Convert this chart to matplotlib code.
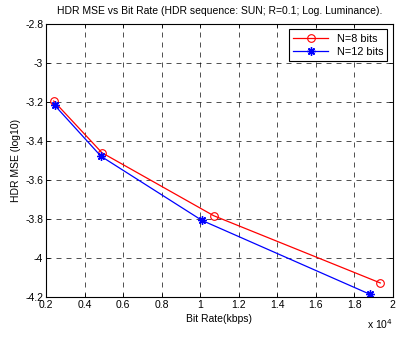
import matplotlib
matplotlib.use("Agg")
import matplotlib.pyplot as plt

plt.rcParams['font.family'] = ['Liberation Sans', 'DejaVu Sans']

rate_8 = [2400, 4900, 10700, 19350]
mse_8 = [-3.195, -3.46, -3.783, -4.128]
rate_12 = [2450, 4850, 10090, 18810]
mse_12 = [-3.217, -3.478, -3.807, -4.186]

xticks = [2000, 4000, 6000, 8000, 10000, 12000, 14000, 16000, 18000, 20000]
xticklabels = ['0.2', '0.4', '0.6', '0.8', '1', '1.2', '1.4', '1.6', '1.8', '2']
yticks = [-2.8, -3.0, -3.2, -3.4, -3.6, -3.8, -4.0, -4.2]
yticklabels = ['-2.8', '-3', '-3.2', '-3.4', '-3.6', '-3.8', '-4', '-4.2']

fig = plt.figure(figsize=(3.98, 3.38), dpi=100)
ax = fig.add_axes([0.1156, 0.1213, 0.8714, 0.8077])

ax.plot(rate_8, mse_8, color='red', lw=0.9, marker='o', ms=5.5, mfc='none', mec='red', mew=0.8, label='N=8 bits')
ax.plot(rate_12, mse_12, color='blue', lw=0.9, marker=(8, 2, 0), ms=6, mfc='blue', mec='blue', mew=1.0, label='N=12 bits')

ax.set_xlim(2000, 20000)
ax.set_ylim(-4.2, -2.8)
ax.set_xticks(xticks)
ax.set_xticklabels(xticklabels)
ax.set_yticks(yticks)
ax.set_yticklabels(yticklabels)
ax.tick_params(direction='in', labelsize=7.5, length=3, width=0.6, top=True, right=True, pad=2)
ax.grid(True, color='black', linestyle=(0, (6, 6)), linewidth=0.6, alpha=0.8)
for s in ax.spines.values():
    s.set_linewidth(0.8)

ax.set_xlabel('Bit Rate(kbps)', fontsize=7.5, labelpad=3)
ax.set_ylabel('HDR MSE (log10)', fontsize=7.5, labelpad=3)
ax.set_title('HDR MSE vs Bit Rate (HDR sequence: SUN; R=0.1; Log. Luminance).', fontsize=7.5, pad=7)
fig.text(0.988, 0.022, r'x 10$^4$', fontsize=7.5, ha='right', va='bottom')

leg = ax.legend(loc='upper right', fontsize=7.8, fancybox=False, framealpha=1, edgecolor='black',
                borderaxespad=0.5, handlelength=3.2, labelspacing=0.3, borderpad=0.4)
leg.get_frame().set_linewidth(0.8)

fig.savefig('out.png', dpi=100)
